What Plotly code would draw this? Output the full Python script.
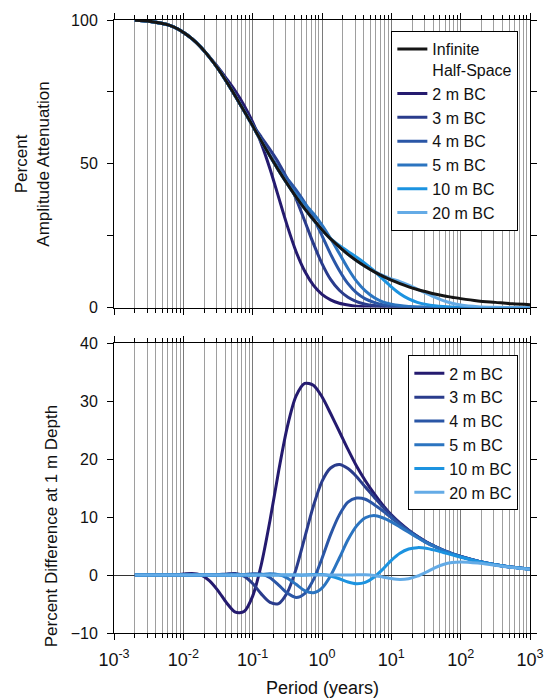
import plotly.graph_objects as go

# ---------------- data ----------------
periods = [0.002, 0.00316, 0.00562, 0.0075, 0.01, 0.0133, 0.0178, 0.0237, 0.0316, 0.0422,
           0.0562, 0.075, 0.1, 0.133, 0.178, 0.237, 0.316, 0.422, 0.562, 0.75,
           1.0, 1.33, 1.78, 2.37, 3.16, 4.22, 5.62, 7.5, 10, 13.3,
           17.8, 23.7, 31.6, 42.2, 56.2, 75, 100, 178, 316, 562, 1000]

att_inf = [99.9, 99.6, 98.5, 97.4, 95.7, 93.5, 90.6, 87.1, 83.1, 78.5,
           73.6, 68.4, 63.2, 57.9, 52.7, 47.7, 43.0, 38.5, 34.4, 30.6,
           27.1, 23.9, 21.1, 18.5, 16.3, 14.3, 12.5, 10.9, 9.5, 8.3,
           7.2, 6.3, 5.5, 4.7, 4.1, 3.6, 3.1, 2.3, 1.8, 1.3, 1.0]
att_2m = [99.9, 99.6, 98.5, 97.4, 95.7, 93.5, 90.6, 87.2, 83.6, 79.5,
          75.3, 70.4, 64.5, 57.1, 48.2, 38.3, 28.4, 19.5, 12.7, 7.8,
          4.6, 2.7, 1.5, 0.9, 0.5, 0.3, 0.2, 0.1, 0.05, 0.03,
          0.02, 0.01, 0, 0, 0, 0, 0, 0, 0, 0, 0]
att_3m = [99.9, 99.6, 98.5, 97.4, 95.7, 93.5, 90.6, 87.1, 83.1, 78.5,
          73.5, 68.5, 63.7, 59.3, 54.9, 50.3, 44.7, 37.9, 30.2, 22.3,
          15.3, 9.8, 6.0, 3.6, 2.1, 1.2, 0.7, 0.4, 0.22, 0.12,
          0.07, 0.04, 0.02, 0.01, 0, 0, 0, 0, 0, 0, 0]
att_4m = [99.9, 99.6, 98.5, 97.4, 95.7, 93.5, 90.6, 87.1, 83.1, 78.5,
          73.6, 68.4, 63.1, 57.8, 52.9, 48.6, 44.8, 40.9, 36.5, 31.2,
          25.0, 18.6, 12.9, 8.3, 5.1, 3.0, 1.8, 1.0, 0.58, 0.33,
          0.18, 0.10, 0.06, 0.03, 0.02, 0.01, 0, 0, 0, 0, 0]
att_5m = [99.9, 99.6, 98.5, 97.4, 95.7, 93.5, 90.6, 87.1, 83.1, 78.5,
          73.6, 68.4, 63.2, 57.9, 52.6, 47.7, 43.3, 39.5, 36.1, 32.7,
          28.7, 24.0, 18.8, 13.6, 9.1, 5.8, 3.5, 2.0, 1.2, 0.69,
          0.39, 0.22, 0.12, 0.07, 0.04, 0.02, 0.01, 0, 0, 0, 0]
att_10m = [99.9, 99.6, 98.5, 97.4, 95.7, 93.5, 90.6, 87.1, 83.1, 78.5,
           73.6, 68.4, 63.2, 57.9, 52.7, 47.7, 43.0, 38.5, 34.4, 30.5,
           27.0, 24.0, 21.6, 19.5, 17.5, 15.3, 12.8, 10.0, 7.2, 4.8,
           3.0, 1.8, 1.1, 0.64, 0.36, 0.20, 0.11, 0.04, 0.01, 0, 0]
att_20m = [99.9, 99.6, 98.5, 97.4, 95.7, 93.5, 90.6, 87.1, 83.1, 78.5,
           73.6, 68.4, 63.2, 57.9, 52.7, 47.7, 43.0, 38.5, 34.4, 30.6,
           27.1, 23.9, 21.1, 18.5, 16.3, 14.3, 12.6, 11.2, 10.0, 9.0,
           7.8, 6.4, 5.0, 3.6, 2.4, 1.5, 0.9, 0.31, 0.10, 0.03, 0.01]

diff_2m = [0, 0, 0, 0.04, 0.18, 0.29, 0.02, -0.95, -2.68, -4.81,
           -6.40, -6.30, -3.63, 1.79, 9.46, 17.99, 25.6, 30.9, 33.1, 32.8,
           30.8, 27.9, 24.8, 21.7, 18.8, 16.3, 14.1, 12.1, 10.4, 9.0,
           7.76, 6.69, 5.77, 4.98, 4.30, 3.71, 3.21, 2.40, 1.79, 1.34, 1.00]
diff_3m = [0, 0, 0, 0, 0, 0, 0, 0, 0.06, 0.21,
           0.28, -0.18, -1.46, -3.24, -4.71, -4.91, -3.01, 1.01, 6.43, 11.9,
           16.2, 18.5, 19.1, 18.4, 17.0, 15.2, 13.5, 11.8, 10.3, 8.9,
           7.7, 6.66, 5.75, 4.97, 4.29, 3.71, 3.21, 2.40, 1.79, 1.34, 1.00]
diff_4m = [0, 0, 0, 0, 0, 0, 0, 0, 0, 0,
           0, 0.08, 0.24, 0.18, -0.47, -1.73, -3.11, -3.85, -3.18, -0.83,
           2.88, 6.98, 10.4, 12.6, 13.3, 13.1, 12.2, 11.1, 9.9, 8.7,
           7.6, 6.6, 5.7, 4.95, 4.28, 3.71, 3.21, 2.40, 1.79, 1.34, 1.00]
diff_5m = [0, 0, 0, 0, 0, 0, 0, 0, 0, 0,
           0, 0, 0, 0.09, 0.22, 0.08, -0.53, -1.59, -2.67, -3.05,
           -2.25, -0.12, 2.95, 6.1, 8.5, 9.9, 10.3, 9.9, 9.2, 8.3,
           7.4, 6.5, 5.6, 4.9, 4.26, 3.69, 3.20, 2.40, 1.79, 1.34, 1.00]
diff_10m = [0, 0, 0, 0, 0, 0, 0, 0, 0, 0,
            0, 0, 0, 0, 0, 0, 0, 0, 0, 0.10,
            0.10, -0.15, -0.63, -1.19, -1.50, -1.26, -0.37, 1.0, 2.55, 3.78,
            4.5, 4.74, 4.64, 4.31, 3.9, 3.5, 3.09, 2.36, 1.78, 1.34, 1.00]
diff_20m = [0, 0, 0, 0, 0, 0, 0, 0, 0, 0,
            0, 0, 0, 0, 0, 0, 0, 0, 0, 0,
            0, 0, 0, 0, 0.05, 0.05, -0.06, -0.32, -0.59, -0.75,
            -0.62, -0.18, 0.49, 1.24, 1.83, 2.17, 2.28, 2.08, 1.69, 1.31, 0.99]

bc_names = ["2 m BC", "3 m BC", "4 m BC", "5 m BC", "10 m BC", "20 m BC"]
bc_att = [att_2m, att_3m, att_4m, att_5m, att_10m, att_20m]
bc_diff = [diff_2m, diff_3m, diff_4m, diff_5m, diff_10m, diff_20m]

decade_ticks = [1e-3, 1e-2, 1e-1, 1e0, 1e1, 1e2, 1e3]
decade_labels = ["10<sup>-3</sup>", "10<sup>-2</sup>", "10<sup>-1</sup>", "10<sup>0</sup>",
                 "10<sup>1</sup>", "10<sup>2</sup>", "10<sup>3</sup>"]
minor_ticks = [m * d for d in decade_ticks[:-1] for m in range(2, 10)]

# ---------------- styles ----------------
bc_colors = ["#251b6f", "#2a3c8c", "#2a56a6", "#2b74c0", "#1c93e0", "#64abe6"]
inf_color = "#151515"
FONT = "Liberation Sans, Arial, Helvetica, sans-serif"

fig = go.Figure()
for i, (nm, col) in enumerate(zip(bc_names, bc_colors)):
    fig.add_trace(go.Scatter(x=periods, y=bc_att[i], mode="lines", name=nm,
                             line=dict(color=col, width=3, shape="spline", smoothing=0.8),
                             xaxis="x", yaxis="y", legend="legend", legendrank=2 + i))
fig.add_trace(go.Scatter(x=periods, y=att_inf, mode="lines", name="Infinite<br>Half-Space",
                         line=dict(color=inf_color, width=3, shape="spline", smoothing=0.8),
                         xaxis="x", yaxis="y", legend="legend", legendrank=1))
for i, (nm, col) in enumerate(zip(bc_names, bc_colors)):
    fig.add_trace(go.Scatter(x=periods, y=bc_diff[i], mode="lines", name=nm,
                             line=dict(color=col, width=3, shape="spline", smoothing=0.8),
                             xaxis="x2", yaxis="y2", legend="legend2", legendrank=2 + i))

grid_major = "#7a7a7a"
grid_minor = "#9e9e9e"

def xaxis_style(show_labels, anchor):
    return dict(type="log", range=[-3, 3], anchor=anchor, domain=[0, 1],
                tickmode="array", tickvals=decade_ticks, ticktext=decade_labels,
                showticklabels=show_labels, ticks="outside", ticklen=6, tickwidth=1,
                tickcolor="black", showgrid=True, gridcolor=grid_major, gridwidth=1,
                minor=dict(tickmode="array", tickvals=minor_ticks, ticks="outside", ticklen=4,
                           tickcolor="black", showgrid=True, gridcolor=grid_minor, gridwidth=1),
                showline=True, linecolor="black", linewidth=1, mirror="allticks",
                zeroline=False, tickfont=dict(size=18, color="#111", family=FONT),
                ticklabelstandoff=4)

fig.update_layout(
    width=556, height=700,
    margin=dict(l=114, r=13, t=19, b=67),
    paper_bgcolor="white", plot_bgcolor="white",
    font=dict(family=FONT, color="#111"),
    xaxis=xaxis_style(False, "y"),
    xaxis2=xaxis_style(True, "y2"),
    yaxis=dict(domain=[0.5309, 1], anchor="x", range=[0, 100], tickmode="array",
               tickvals=[0, 50, 100], ticks="outside", ticklen=6, tickcolor="black",
               minor=dict(tickmode="array", tickvals=[25, 75], ticks="outside", ticklen=6,
                          tickcolor="black", showgrid=False),
               showgrid=False, zeroline=False, showline=True, linecolor="black",
               linewidth=1, mirror="allticks", tickfont=dict(size=16, family=FONT),
               ticklabelstandoff=6),
    yaxis2=dict(domain=[0, 0.4723], anchor="x2", range=[-10, 40], tickmode="array",
                tickvals=[-10, 0, 10, 20, 30, 40], ticks="outside", ticklen=6,
                tickcolor="black", showgrid=False, zeroline=True, zerolinecolor="#333",
                zerolinewidth=1, showline=True, linecolor="black", linewidth=1,
                mirror="allticks", tickfont=dict(size=16, family=FONT),
                ticklabelstandoff=6),
    legend=dict(x=0.972, xanchor="right", y=0.982, yanchor="top", bgcolor="white",
                bordercolor="black", borderwidth=1, font=dict(size=16, family=FONT),
                valign="top", tracegroupgap=0, itemwidth=30),
    legend2=dict(x=0.972, xanchor="right", y=0.4528, yanchor="top", bgcolor="white",
                 bordercolor="black", borderwidth=1, font=dict(size=16, family=FONT),
                 valign="top", tracegroupgap=0, itemwidth=30),
    annotations=[
        dict(text="Percent<br>Amplitude Attenuation", textangle=-90, xref="paper", yref="paper",
             x=-0.195, y=0.7655, xanchor="center", yanchor="middle", showarrow=False,
             font=dict(size=17, family=FONT, color="#111")),
        dict(text="Percent Difference at 1 m Depth", textangle=-90, xref="paper", yref="paper",
             x=-0.15, y=0.175, xanchor="center", yanchor="middle", showarrow=False,
             font=dict(size=17, family=FONT, color="#111")),
        dict(text="Period (years)", xref="paper", yref="paper", x=0.5, y=-0.0896,
             xanchor="center", yanchor="middle", showarrow=False,
             font=dict(size=18, family=FONT, color="#111")),
    ],
)

fig.write_html("out.html", config={"displayModeBar": False},
               post_script="document.body.style.margin='0px';document.body.style.overflow='hidden';")
